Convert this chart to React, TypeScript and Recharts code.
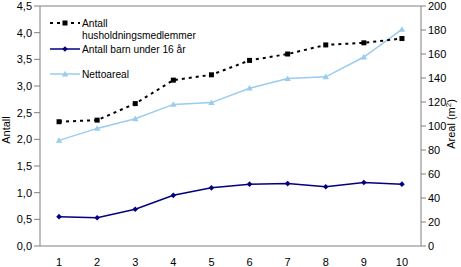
import { ComposedChart, Line, XAxis, YAxis, ReferenceLine } from "recharts";

const CATEGORIES = [1, 2, 3, 4, 5, 6, 7, 8, 9, 10];
const HUSHOLDNING = [2.33, 2.36, 2.67, 3.11, 3.21, 3.48, 3.6, 3.77, 3.81, 3.89];
const BARN = [0.55, 0.53, 0.69, 0.95, 1.09, 1.16, 1.17, 1.11, 1.19, 1.16];
const NETTOAREAL = [88, 98, 106, 118, 119.5, 131.5, 139.5, 141, 157.5, 180.5];
const LEFT_TICKS = [0, 0.5, 1, 1.5, 2, 2.5, 3, 3.5, 4, 4.5];
const RIGHT_TICKS = [0, 20, 40, 60, 80, 100, 120, 140, 160, 180, 200];
const BOUNDARY_TICKS = [0.5, 1.5, 2.5, 3.5, 4.5, 5.5, 6.5, 7.5, 8.5, 9.5, 10.5];

const data = CATEGORIES.map((x, i) => ({
  x,
  husholdning: HUSHOLDNING[i],
  barn: BARN[i],
  netto: NETTOAREAL[i],
}));

const AXIS = "#808080";
const FONT = "'Liberation Sans', Arial, sans-serif";
const FS = 11;
const tickStyle = { fontSize: FS, fill: "#000", fontFamily: FONT };

const Square = (p: any) => (
  <rect x={p.cx - 2.5} y={p.cy - 2.5} width={5} height={5} fill="#000" />
);
const Diamond = (p: any) => (
  <path d={`M${p.cx},${p.cy - 2.8}L${p.cx + 2.8},${p.cy}L${p.cx},${p.cy + 2.8}L${p.cx - 2.8},${p.cy}Z`} fill="#000080" />
);
const Triangle = (p: any) => (
  <path d={`M${p.cx},${p.cy - 3.2}L${p.cx + 3.2},${p.cy + 2.4}L${p.cx - 3.2},${p.cy + 2.4}Z`} fill="#99CCEE" />
);

const LEGEND = [
  { lines: ["Antall", "husholdningsmedlemmer"], stroke: "#000", dash: "3 4", width: 2, Marker: Square },
  { lines: ["Antall barn under 16 år"], stroke: "#000080", dash: undefined, width: 1.5, Marker: Diamond },
  { lines: ["Nettoareal"], stroke: "#99CCEE", dash: undefined, width: 1.5, Marker: Triangle },
];

// legend drawn as an overlay so it does not push the plot area down
const LegendBox = () => (
  <svg width={200} height={70} style={{ position: "absolute", left: 50, top: 16, fontFamily: FONT, fontSize: 10.2 }}>
    {LEGEND.map((item, i) => {
      const y = [7, 33, 58][i];
      return (
        <g key={i}>
          <line x1={0} x2={30} y1={y} y2={y} stroke={item.stroke} strokeWidth={item.width} strokeDasharray={item.dash} />
          <item.Marker cx={15} cy={y} />
          {item.lines.map((t, j) => (
            <text key={j} x={32} y={y + 4 + j * 11.5} fill="#000">{t}</text>
          ))}
        </g>
      );
    })}
  </svg>
);

const RightLabel = (props: any) => {
  const { viewBox } = props;
  const cx = viewBox.x + viewBox.width - 6;
  const cy = viewBox.y + viewBox.height / 2 - 2;
  return (
    <text transform={`translate(${cx},${cy}) rotate(-90)`} textAnchor="middle" fontSize={FS} fontFamily={FONT} fill="#000">
      Areal (m<tspan dy={-4} fontSize={8}>2</tspan><tspan dy={4}>)</tspan>
    </text>
  );
};

const LeftLabel = (props: any) => {
  const { viewBox } = props;
  const cx = viewBox.x + 10;
  const cy = viewBox.y + viewBox.height / 2 + 4;
  return (
    <text transform={`translate(${cx},${cy}) rotate(-90)`} textAnchor="middle" fontSize={FS} fontFamily={FONT} fill="#000">
      Antall
    </text>
  );
};

export default function App() {
  return (
    <div style={{ position: "relative", width: 461, height: 267, background: "#fff" }}>
      <style>{`body{margin:0}`}</style>
      <ComposedChart width={461} height={267} data={data} margin={{ top: 6, right: 0, bottom: 0, left: 0 }}>
        <XAxis
          xAxisId="b"
          dataKey="x"
          type="number"
          domain={[0.5, 10.5]}
          ticks={BOUNDARY_TICKS}
          tick={false}
          tickSize={4}
          tickLine={{ stroke: AXIS }}
          axisLine={false}
          height={0}
        />
        <XAxis
          xAxisId="a"
          dataKey="x"
          type="number"
          domain={[0.5, 10.5]}
          ticks={CATEGORIES}
          tickLine={false}
          axisLine={{ stroke: AXIS }}
          tick={tickStyle}
          tickMargin={6}
          height={21}
        />
        <YAxis
          yAxisId="left"
          domain={[0, 4.5]}
          ticks={LEFT_TICKS}
          tickFormatter={(v) => Number(v).toFixed(1).replace(".", ",")}
          tick={tickStyle}
          tickSize={6}
          tickLine={{ stroke: AXIS }}
          axisLine={{ stroke: AXIS }}
          width={40}
          interval={0}
          label={<LeftLabel />}
        />
        <YAxis
          yAxisId="right"
          orientation="right"
          domain={[0, 200]}
          ticks={RIGHT_TICKS}
          tick={tickStyle}
          tickSize={5}
          tickLine={{ stroke: AXIS }}
          axisLine={{ stroke: AXIS }}
          width={40}
          interval={0}
          label={<RightLabel />}
        />
        <ReferenceLine xAxisId="a" yAxisId="left" y={4.5} stroke={AXIS} />
        <Line
          xAxisId="a"
          yAxisId="right"
          dataKey="netto"
          stroke="#99CCEE"
          strokeWidth={1.5}
          dot={<Triangle />}
          isAnimationActive={false}
        />
        <Line
          xAxisId="a"
          yAxisId="left"
          dataKey="husholdning"
          stroke="#000"
          strokeWidth={2}
          strokeDasharray="3 4"
          dot={<Square />}
          isAnimationActive={false}
        />
        <Line
          xAxisId="a"
          yAxisId="left"
          dataKey="barn"
          stroke="#000080"
          strokeWidth={1.5}
          dot={<Diamond />}
          isAnimationActive={false}
        />
      </ComposedChart>
      <LegendBox />
    </div>
  );
}
